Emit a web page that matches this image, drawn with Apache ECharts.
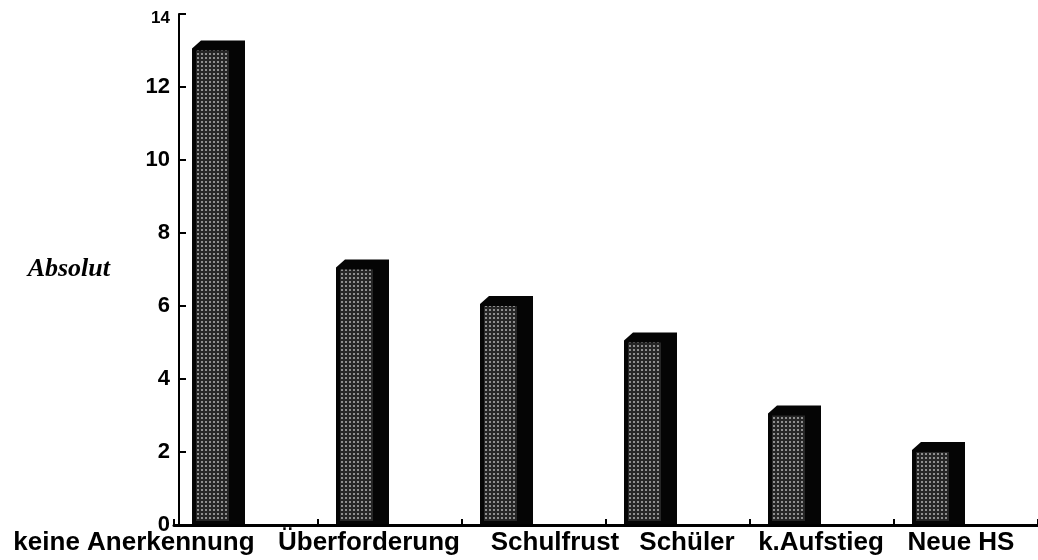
<!DOCTYPE html>
<html>
<head>
<meta charset="utf-8">
<script src="https://cdn.jsdelivr.net/npm/echarts@6/dist/echarts.min.js"></script>
<style>
  html, body { margin: 0; padding: 0; background: #ffffff; }
  #chart { width: 1038px; height: 560px; }
</style>
</head>
<body>
<div id="chart"></div>
<script>
// ---- data ----
const categories = ['keine Anerkennung', 'Überforderung', 'Schulfrust', 'Schüler', 'k.Aufstieg', 'Neue HS'];
const values = [13, 7, 6, 5, 3, 2];
const yMin = 0, yMax = 14, yStep = 2;
const yAxisTitle = 'Absolut';

// ---- styling helpers ----
const labelShift = [-112, -21, 21, 9, -1, -5]; // horizontal label nudges (px)

function makeStipple() {
  const c = document.createElement('canvas');
  c.width = 4; c.height = 4;
  const ctx = c.getContext('2d');
  ctx.fillStyle = '#262626';
  ctx.fillRect(0, 0, 4, 4);
  ctx.fillStyle = '#8e8e8e';
  ctx.fillRect(1, 1, 2, 2);
  return c;
}
const stipple = { image: makeStipple(), repeat: 'repeat' };

const rich = {};
labelShift.forEach((s, i) => {
  rich['l' + i] = {
    fontFamily: 'Liberation Sans, Arial, sans-serif',
    fontWeight: 'bold',
    fontSize: 26,
    color: '#000',
    padding: s < 0 ? [0, -2 * s, 0, 0] : [0, 0, 0, 2 * s]
  };
});

const chart = echarts.init(document.getElementById('chart'), null, { renderer: 'canvas' });

const option = {
  animation: false,
  backgroundColor: '#ffffff',
  grid: { left: 174, width: 867, top: 14, bottom: 35, containLabel: false },
  xAxis: {
    type: 'category',
    data: categories,
    boundaryGap: true,
    axisLine: { show: true, lineStyle: { color: '#000', width: 3 } },
    axisTick: { show: true, inside: true, length: 6, lineStyle: { color: '#000', width: 2 } },
    axisLabel: {
      interval: 0,
      margin: 5,
      formatter: function (val, i) {
        return '{l' + i + '|' + val + '}';
      },
      rich: rich
    },
    splitLine: { show: false }
  },
  yAxis: {
    type: 'value',
    min: yMin,
    max: yMax,
    interval: yStep,
    offset: -5,
    name: yAxisTitle,
    nameLocation: 'middle',
    nameRotate: 0,
    nameGap: 69,
    nameTextStyle: {
      fontFamily: 'Liberation Serif, Times New Roman, serif',
      fontStyle: 'italic',
      fontWeight: 'bold',
      fontSize: 26,
      color: '#000',
      align: 'right',
      verticalAlign: 'middle'
    },
    axisLine: { show: true, lineStyle: { color: '#000', width: 2 } },
    axisTick: { show: true, inside: true, length: 7, lineStyle: { color: '#000', width: 2 } },
    axisLabel: {
      margin: 9,
      fontFamily: 'Liberation Sans, Arial, sans-serif',
      fontWeight: 'bold',
      fontSize: 22,
      color: '#000',
      formatter: function (v) { return v === yMax ? '{s|' + v + '}' : String(v); },
      rich: { s: { fontFamily: 'Liberation Sans, Arial, sans-serif', fontWeight: 'bold', fontSize: 17, color: '#000', padding: [8, 0, 0, 0] } }
    },
    splitLine: { show: false }
  },
  series: [{
    type: 'custom',
    clip: false,
    encode: { x: 0, y: 1 },
    data: values.map((v, i) => [i, v]),
    renderItem: function (params, api) {
      const idx = api.value(0);
      const v = api.value(1);
      const top = api.coord([idx, v]);
      const base = api.coord([idx, 0]);
      const bw = api.size([1, 0])[0];
      const L = top[0] - bw / 2 + 18;
      const W = 53;
      const T = top[1];
      const B = base[1] - 1;
      return {
        type: 'group',
        children: [
          {
            type: 'polygon',
            shape: { points: [[L, B], [L, T - 2], [L + 9, T - 10], [L + W, T - 10], [L + W, B]] },
            style: { fill: '#050505' }
          },
          {
            type: 'rect',
            shape: { x: L + 4, y: T, width: 33, height: B - T - 3 },
            style: { fill: stipple }
          }
        ]
      };
    }
  }]
};

chart.setOption(option);
</script>
</body>
</html>
